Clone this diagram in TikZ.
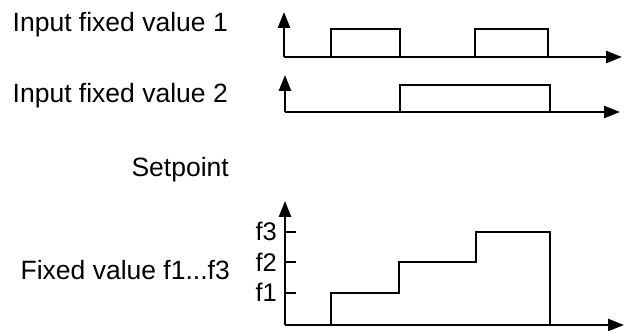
\documentclass[tikz,border=0pt]{standalone}
\usepackage{fontspec}
\setmainfont{Liberation Sans}
\usetikzlibrary{arrows.meta}
\begin{document}
\begin{tikzpicture}[x=1pt,y=-1pt,
  lbl/.style={font=\fontsize{26.5}{30}\selectfont,inner sep=0pt,anchor=base east},
  flbl/.style={font=\fontsize{25.5}{29}\selectfont,inner sep=0pt,anchor=base east},
  axis/.style={line width=2.6pt,-{Triangle[length=16pt,width=12pt]}},
  sig/.style={line width=2.6pt,line join=miter}]
\useasboundingbox (0,0) rectangle (630,331);
% labels
\node[lbl] (l1) at (228,32) {Input fixed value 1};
\node[lbl] (l2) at (228,103) {Input fixed value 2};
\node[lbl] (l3) at (229,177) {Setpoint};
\node[lbl] (l4) at (230,280) {Fixed value f1...f3};
% chart 1
\coordinate (o1) at (284,57);
\draw[axis] (o1) -- (284,12);
\draw[axis] (o1) -- (622,57);
\draw[sig] (331,57) -- (331,29) -- (400,29) -- (400,57);
\draw[sig] (475,57) -- (475,29) -- (548,29) -- (548,57);
% chart 2
\coordinate (o2) at (285,112);
\draw[axis] (o2) -- (285,75);
\draw[axis] (o2) -- (620,112);
\draw[sig] (400,112) -- (400,85) -- (550,85) -- (550,112);
% chart 3
\coordinate (o3) at (285,325);
\draw[axis] (o3) -- (285,201);
\draw[axis] (o3) -- (624,325);
\draw[sig] (285,232) -- (296,232);
\draw[sig] (285,262) -- (296,262);
\draw[sig] (285,293) -- (296,293);
\node[flbl] (f3) at (277,241) {f3};
\node[flbl] (f2) at (277,272) {f2};
\node[flbl] (f1) at (277,302) {f1};
\draw[sig] (331,325) -- (331,293) -- (399,293) -- (399,262) -- (476,262) -- (476,232) -- (550,232) -- (550,325);
\end{tikzpicture}
\end{document}
